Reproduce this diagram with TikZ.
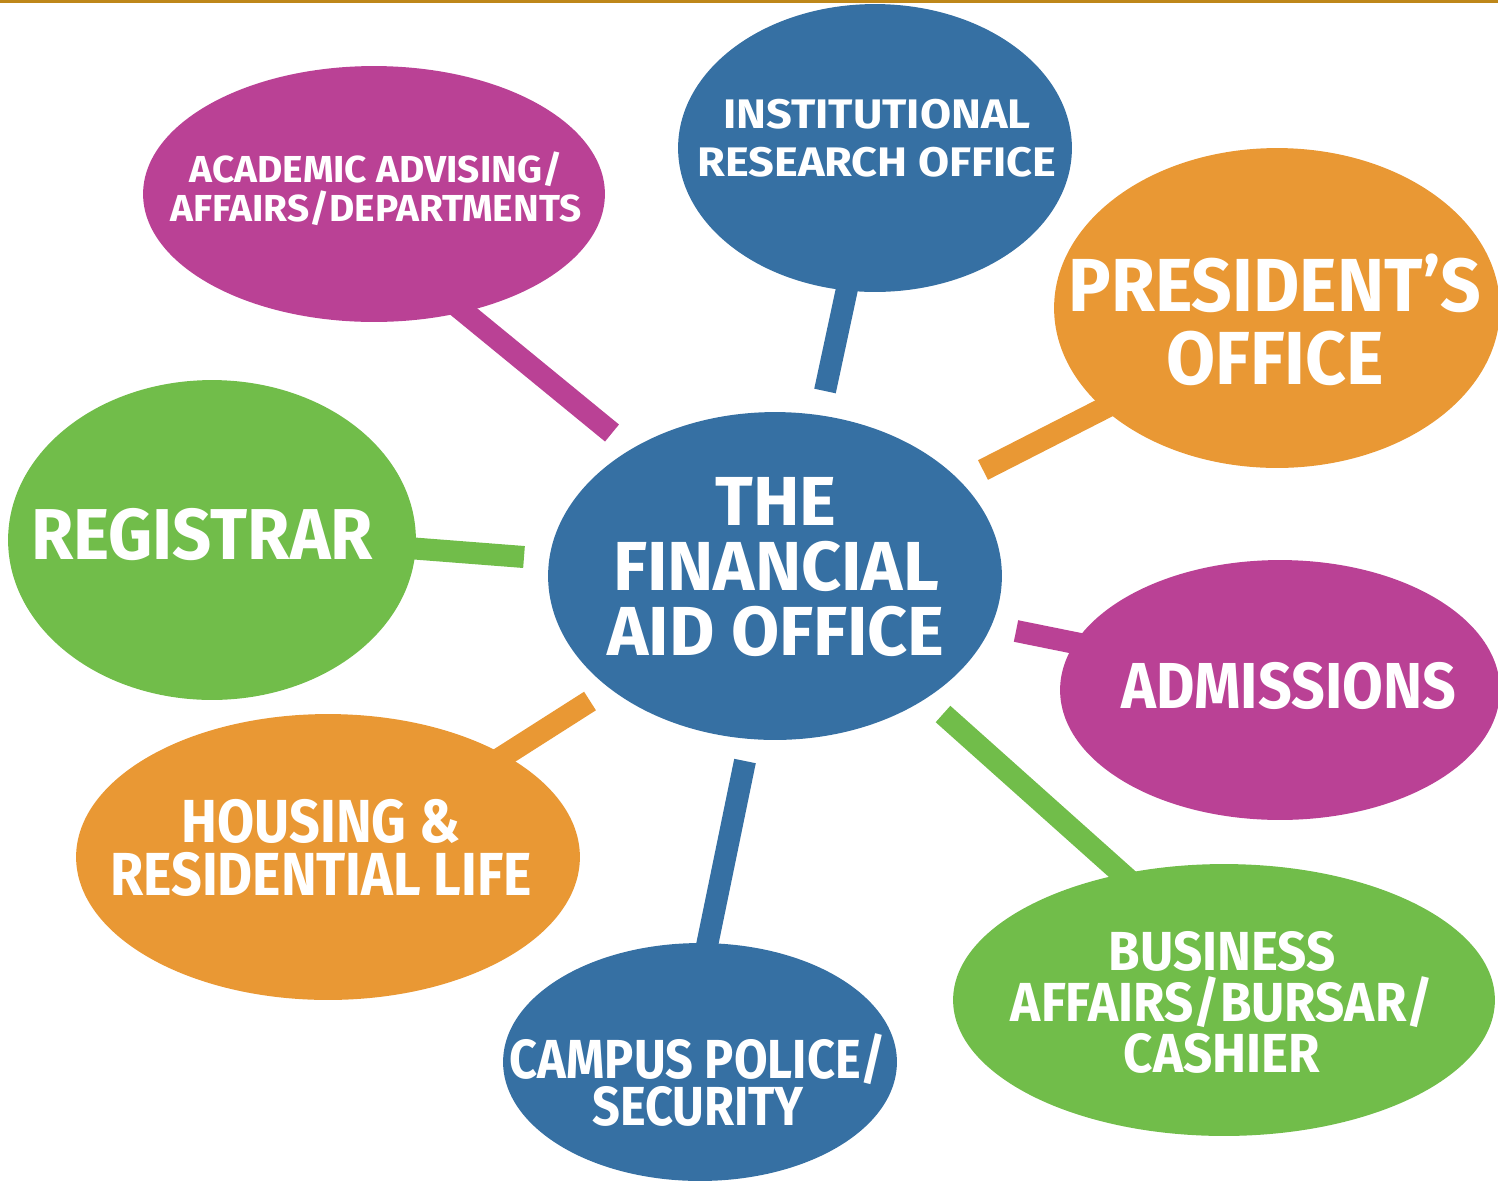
\documentclass[tikz,border=0pt]{standalone}
\usepackage{fontspec}
\setmainfont{Fira Sans}[FakeStretch=0.86]
\usetikzlibrary{shapes.geometric}

\definecolor{aidblue}{RGB}{54,112,163}
\definecolor{aidmagenta}{RGB}{186,65,149}
\definecolor{aidorange}{RGB}{233,152,52}
\definecolor{aidgreen}{RGB}{113,189,74}
\definecolor{rulegold}{RGB}{190,135,25}

\tikzset{
  blob/.style n args={3}{ellipse, fill=#1, draw=none, inner sep=0pt,
    minimum width=#2*0.04cm, minimum height=#3*0.04cm},
  bar/.style={line width=0.44cm, line cap=butt, draw=#1},
  lbl/.style n args={3}{text=white, align=center, inner sep=0pt,
    transform shape, xscale=#3,
    font=\fontsize{#1}{#2}\selectfont\bfseries},
}

\begin{document}
\begin{tikzpicture}[x=0.02cm, y=-0.02cm]
\useasboundingbox (0,0) rectangle (1498,1181);

% thin rule along the top edge
\fill[rulegold] (0,0) rectangle (1498,2.5);

% roots of the spokes (inside the outer ovals) and their free inner ends
\coordinate (acad-r) at (446,297);   \coordinate (acad-e) at (612,433);
\coordinate (inst-r) at (851,270);   \coordinate (inst-e) at (825,391);
\coordinate (pres-r) at (1132,394);  \coordinate (pres-e) at (983,470);
\coordinate (reg-r)  at (395,547);   \coordinate (reg-e)  at (524,557);
\coordinate (adm-r)  at (1100,648);  \coordinate (adm-e)  at (1016,631);
\coordinate (bus-r)  at (1140,890);  \coordinate (bus-e)  at (943,714);
\coordinate (camp-r) at (703,965);   \coordinate (camp-e) at (745,761);
\coordinate (hous-r) at (488,766);   \coordinate (hous-e) at (590,701);

% spokes
\draw[bar=aidmagenta] (acad-r) -- (acad-e);
\draw[bar=aidblue]    (inst-r) -- (inst-e);
\draw[bar=aidorange]  (pres-r) -- (pres-e);
\draw[bar=aidgreen]   (reg-r)  -- (reg-e);
\draw[bar=aidmagenta] (adm-r)  -- (adm-e);
\draw[bar=aidgreen]   (bus-r)  -- (bus-e);
\draw[bar=aidblue]    (camp-r) -- (camp-e);
\draw[bar=aidorange]  (hous-r) -- (hous-e);

% ovals
\node[blob={aidblue}{227}{164}]    (fao)  at (775,576) {};
\node[blob={aidmagenta}{231}{128}] (acad) at (374,194) {};
\node[blob={aidblue}{197}{144}]    (inst) at (875,148) {};
\node[blob={aidorange}{223}{160}]  (pres) at (1277,308) {};
\node[blob={aidgreen}{204}{160}]   (reg)  at (212,540) {};
\node[blob={aidmagenta}{220}{130}] (adm)  at (1280,690) {};
\node[blob={aidorange}{252}{143}]  (hous) at (328,857) {};
\node[blob={aidblue}{197}{119}]    (camp) at (700,1062) {};
\node[blob={aidgreen}{271}{136}]   (bus)  at (1224,1000) {};

% labels
\node[lbl={39.5}{37}{1.17}]   (fao-t)  at (776,567)  {THE\\FINANCIAL\\AID OFFICE};
\node[lbl={21.4}{22.1}{1.2}]  (acad-t) at (376,189)  {ACADEMIC ADVISING/\\AFFAIRS/DEPARTMENTS};
\node[lbl={23.5}{27.2}{1.27}] (inst-t) at (877,138)  {INSTITUTIONAL\\RESEARCH OFFICE};
\node[lbl={42.8}{41.4}{1.1}]  (pres-t) at (1275,320) {PRESIDENT’S\\OFFICE};
\node[lbl={41}{41}{1.107}]    (reg-t)  at (202,535)  {REGISTRAR};
\node[lbl={37}{37}{1.057}]    (adm-t)  at (1289,686) {ADMISSIONS};
\node[lbl={34.6}{30}{1.03}]   (hous-t) at (321,848)  {HOUSING \&\\RESIDENTIAL LIFE};
\node[lbl={31.3}{27.2}{1.03}] (camp-t) at (698,1080) {CAMPUS POLICE/\\SECURITY};
\node[lbl={31.3}{29}{1.08}]   (bus-t)  at (1222,1002) {BUSINESS\\AFFAIRS/BURSAR/\\CASHIER};
\end{tikzpicture}
\end{document}
